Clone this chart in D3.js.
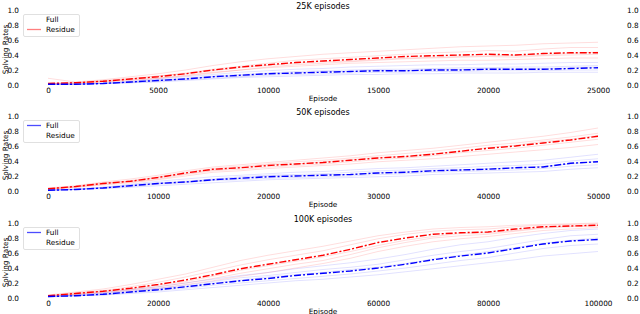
<!DOCTYPE html>
<html>
<head>
<meta charset="utf-8">
<script src="https://cdn.jsdelivr.net/npm/d3@7"></script>
<style>
  body { margin: 0; background: #fff; }
  svg { font-family: "DejaVu Sans", sans-serif; }
</style>
</head>
<body>
<div id="chart"></div>
<script>
// episode grids (21 samples per run)
const episodes25k = d3.range(0, 25001, 1250);
const episodes50k = d3.range(0, 50001, 2500);
const episodes100k = d3.range(0, 100001, 5000);

const xTicks25k = [0, 5000, 10000, 15000, 20000, 25000];
const xTicks50k = [0, 10000, 20000, 30000, 40000, 50000];
const xTicks100k = [0, 20000, 40000, 60000, 80000, 100000];
const yTicks = [0, 0.2, 0.4, 0.6, 0.8, 1.0];
const titles = ["25K episodes", "50K episodes", "100K episodes"];

// 25K: mean curves
const residueMean25k = [0.02,0.03,0.05,0.08,0.11,0.15,0.20,0.24,0.27,0.30,0.32,0.34,0.36,0.38,0.39,0.40,0.41,0.40,0.42,0.43,0.43];
const fullMean25k    = [0.01,0.01,0.02,0.04,0.06,0.08,0.11,0.13,0.15,0.16,0.17,0.18,0.19,0.19,0.20,0.20,0.21,0.21,0.21,0.22,0.23];
// 25K: single runs
const residueRuns25k = [
  [0.09,0.04,0.07,0.11,0.15,0.20,0.26,0.31,0.35,0.38,0.41,0.43,0.45,0.47,0.49,0.51,0.52,0.53,0.55,0.56,0.57],
  [0.02,0.03,0.05,0.07,0.09,0.13,0.17,0.20,0.23,0.25,0.27,0.29,0.30,0.31,0.32,0.33,0.33,0.34,0.35,0.36,0.36],
  [0.02,0.03,0.06,0.09,0.12,0.16,0.21,0.25,0.29,0.33,0.35,0.37,0.39,0.41,0.43,0.44,0.46,0.45,0.48,0.50,0.50],
  [0.01,0.02,0.04,0.06,0.09,0.12,0.16,0.20,0.24,0.27,0.29,0.31,0.33,0.35,0.36,0.37,0.38,0.37,0.39,0.40,0.41],
  [0.02,0.03,0.05,0.08,0.12,0.15,0.19,0.23,0.26,0.29,0.31,0.32,0.34,0.36,0.37,0.38,0.39,0.39,0.40,0.42,0.44]
];
const fullRuns25k = [
  [0.01,0.01,0.03,0.05,0.08,0.11,0.14,0.17,0.19,0.21,0.22,0.24,0.25,0.26,0.27,0.27,0.28,0.28,0.29,0.30,0.30],
  [0.01,0.01,0.02,0.03,0.04,0.06,0.08,0.10,0.11,0.12,0.13,0.14,0.14,0.15,0.15,0.16,0.16,0.16,0.17,0.17,0.17],
  [0.01,0.01,0.02,0.04,0.06,0.09,0.12,0.14,0.16,0.18,0.19,0.20,0.21,0.21,0.22,0.23,0.23,0.24,0.24,0.25,0.26],
  [0.01,0.01,0.02,0.03,0.05,0.07,0.09,0.11,0.13,0.14,0.15,0.16,0.17,0.17,0.18,0.18,0.19,0.19,0.19,0.20,0.20],
  [0.01,0.01,0.02,0.04,0.07,0.08,0.11,0.12,0.15,0.16,0.18,0.18,0.20,0.19,0.21,0.21,0.22,0.21,0.22,0.23,0.24]
];

// 50K
const residueMean50k = [0.03,0.06,0.10,0.13,0.18,0.24,0.29,0.31,0.34,0.36,0.38,0.41,0.44,0.46,0.49,0.53,0.57,0.60,0.64,0.68,0.73];
const fullMean50k    = [0.01,0.02,0.04,0.07,0.10,0.12,0.15,0.17,0.19,0.20,0.21,0.22,0.24,0.25,0.27,0.28,0.29,0.31,0.32,0.37,0.39];
const residueRuns50k = [
  [0.04,0.07,0.12,0.16,0.21,0.27,0.32,0.35,0.38,0.41,0.44,0.47,0.51,0.54,0.57,0.61,0.65,0.69,0.73,0.78,0.84],
  [0.03,0.05,0.08,0.11,0.15,0.20,0.25,0.27,0.30,0.32,0.34,0.36,0.39,0.41,0.43,0.46,0.49,0.52,0.55,0.58,0.62],
  [0.03,0.06,0.10,0.14,0.19,0.25,0.30,0.33,0.36,0.39,0.41,0.44,0.47,0.50,0.53,0.57,0.61,0.64,0.68,0.72,0.77],
  [0.02,0.05,0.09,0.12,0.16,0.22,0.27,0.29,0.32,0.34,0.36,0.39,0.42,0.44,0.47,0.51,0.54,0.57,0.61,0.65,0.69],
  [0.03,0.06,0.11,0.13,0.18,0.23,0.28,0.31,0.35,0.36,0.39,0.42,0.45,0.46,0.50,0.53,0.58,0.61,0.66,0.69,0.74]
];
const fullRuns50k = [
  [0.01,0.03,0.05,0.09,0.13,0.16,0.19,0.21,0.23,0.25,0.26,0.28,0.30,0.31,0.33,0.35,0.37,0.39,0.41,0.45,0.49],
  [0.01,0.02,0.03,0.05,0.07,0.09,0.11,0.13,0.15,0.16,0.17,0.18,0.19,0.20,0.22,0.23,0.24,0.25,0.26,0.29,0.31],
  [0.01,0.02,0.04,0.08,0.11,0.13,0.16,0.19,0.21,0.22,0.23,0.25,0.27,0.28,0.30,0.31,0.33,0.34,0.36,0.40,0.43],
  [0.01,0.02,0.04,0.06,0.09,0.11,0.14,0.15,0.17,0.18,0.19,0.20,0.22,0.23,0.25,0.26,0.27,0.28,0.30,0.33,0.35],
  [0.01,0.02,0.05,0.07,0.10,0.12,0.15,0.17,0.20,0.20,0.22,0.22,0.25,0.25,0.28,0.28,0.30,0.31,0.33,0.36,0.40]
];

// 100K
const residueMean100k = [0.03,0.06,0.09,0.13,0.18,0.24,0.31,0.39,0.45,0.51,0.57,0.65,0.74,0.80,0.85,0.87,0.88,0.92,0.95,0.96,0.97];
const fullMean100k    = [0.02,0.03,0.05,0.08,0.11,0.15,0.19,0.23,0.26,0.30,0.33,0.36,0.40,0.45,0.51,0.56,0.60,0.66,0.72,0.76,0.78];
const residueRuns100k = [
  [0.04,0.08,0.12,0.18,0.25,0.32,0.41,0.50,0.57,0.63,0.69,0.76,0.83,0.88,0.92,0.94,0.95,0.97,0.98,0.99,1.00],
  [0.03,0.05,0.07,0.10,0.13,0.18,0.23,0.29,0.34,0.40,0.46,0.53,0.62,0.69,0.75,0.79,0.82,0.86,0.90,0.92,0.94],
  [0.03,0.07,0.10,0.15,0.21,0.28,0.36,0.44,0.51,0.57,0.63,0.71,0.79,0.85,0.89,0.91,0.92,0.95,0.97,0.98,0.99],
  [0.02,0.05,0.08,0.11,0.15,0.20,0.26,0.33,0.39,0.45,0.50,0.58,0.67,0.74,0.80,0.83,0.85,0.89,0.93,0.95,0.96],
  [0.03,0.06,0.09,0.12,0.17,0.22,0.29,0.37,0.43,0.49,0.55,0.62,0.70,0.77,0.82,0.86,0.87,0.90,0.94,0.96,0.97]
];
const fullRuns100k = [
  [0.02,0.04,0.07,0.11,0.15,0.20,0.25,0.30,0.34,0.39,0.43,0.47,0.52,0.58,0.65,0.71,0.75,0.81,0.86,0.90,0.92],
  [0.02,0.03,0.04,0.06,0.08,0.11,0.14,0.17,0.20,0.23,0.25,0.28,0.31,0.35,0.39,0.43,0.47,0.51,0.56,0.59,0.62],
  [0.02,0.04,0.06,0.09,0.13,0.17,0.22,0.27,0.30,0.34,0.38,0.41,0.45,0.51,0.57,0.62,0.66,0.72,0.78,0.83,0.85],
  [0.01,0.03,0.04,0.07,0.10,0.13,0.17,0.20,0.23,0.26,0.29,0.32,0.36,0.40,0.45,0.50,0.54,0.60,0.66,0.70,0.72],
  [0.02,0.03,0.05,0.08,0.12,0.15,0.20,0.24,0.28,0.31,0.34,0.38,0.41,0.46,0.52,0.57,0.62,0.67,0.73,0.77,0.80]
];

const panels = [
  { title: titles[0], eps: episodes25k, max: 25000, xticks: xTicks25k, top: 10, bottom: 85,
    red: residueMean25k, blue: fullMean25k, redRuns: residueRuns25k, blueRuns: fullRuns25k, legendLine: "red" },
  { title: titles[1], eps: episodes50k, max: 50000, xticks: xTicks50k, top: 116, bottom: 191,
    red: residueMean50k, blue: fullMean50k, redRuns: residueRuns50k, blueRuns: fullRuns50k, legendLine: "blue" },
  { title: titles[2], eps: episodes100k, max: 100000, xticks: xTicks100k, top: 223, bottom: 298,
    red: residueMean100k, blue: fullMean100k, redRuns: residueRuns100k, blueRuns: fullRuns100k, legendLine: "blue" }
];

const W = 640, H = 314;
const left = 48, right = 598;
const fs = 7.3;

const svg = d3.select("#chart").append("svg")
  .attr("width", W).attr("height", H);

panels.forEach(function(p) {
  const x = d3.scaleLinear().domain([0, p.max]).range([left, right]);
  const y = d3.scaleLinear().domain([0, 1]).range([p.bottom, p.top]);
  const g = svg.append("g");

  const line = d3.line()
    .x((d, i) => x(p.eps[i]))
    .y(d => y(d));

  // faint individual runs
  p.redRuns.forEach(run => {
    g.append("path").attr("d", line(run))
      .attr("fill", "none").attr("stroke", "rgba(255,0,0,0.17)").attr("stroke-width", 0.8);
  });
  p.blueRuns.forEach(run => {
    g.append("path").attr("d", line(run))
      .attr("fill", "none").attr("stroke", "rgba(0,0,255,0.15)").attr("stroke-width", 0.8);
  });

  // means
  g.append("path").attr("d", line(p.red))
    .attr("fill", "none").attr("stroke", "#ff0000").attr("stroke-width", 1.4)
    .attr("stroke-dasharray", "7,2,2,2");
  g.append("path").attr("d", line(p.blue))
    .attr("fill", "none").attr("stroke", "#0000ff").attr("stroke-width", 1.4)
    .attr("stroke-dasharray", "7,2,2,2");

  // axes
  const ax = [
    g.append("g").attr("transform", `translate(${left},0)`)
      .call(d3.axisLeft(y).tickValues(yTicks).tickFormat(d3.format(".1f")).tickSize(0).tickPadding(29)),
    g.append("g").attr("transform", `translate(${right},0)`)
      .call(d3.axisRight(y).tickValues(yTicks).tickFormat(d3.format(".1f")).tickSize(0).tickPadding(29)),
    g.append("g").attr("transform", `translate(0,${p.bottom})`)
      .call(d3.axisBottom(x).tickValues(p.xticks).tickFormat(d3.format("d")).tickSize(0).tickPadding(2.5))
  ];
  ax.forEach(a => {
    a.select(".domain").remove();
    a.selectAll("text").attr("font-size", fs).attr("fill", "#000")
      .attr("font-family", "DejaVu Sans, sans-serif");
  });

  // title and axis labels
  g.append("text").attr("x", (left + right) / 2).attr("y", p.top - 1.5)
    .attr("text-anchor", "middle").attr("font-size", 8).text(p.title);
  g.append("text").attr("x", (left + right) / 2).attr("y", p.bottom + 15.5)
    .attr("text-anchor", "middle").attr("font-size", fs).text("Episode");
  g.append("text")
    .attr("transform", `translate(7.5,${(p.top + p.bottom) / 2 + 2}) rotate(-90)`)
    .attr("text-anchor", "middle").attr("font-size", fs).text("Solving Rates");

  // legend
  const lg = g.append("g").attr("transform", `translate(23,${p.top + 4})`);
  lg.append("rect").attr("x", 0.5).attr("y", 0.5).attr("width", 56).attr("height", 22)
    .attr("rx", 1.5).attr("fill", "rgba(255,255,255,0.8)").attr("stroke", "#d8d8d8").attr("stroke-width", 0.8);
  const rowY = [5.5, 15.5];
  if (p.legendLine === "red") {
    lg.append("line").attr("x1", 4).attr("x2", 18).attr("y1", rowY[1]).attr("y2", rowY[1])
      .attr("stroke", "#ff0000").attr("stroke-opacity", 0.5).attr("stroke-width", 1.3);
  } else {
    lg.append("line").attr("x1", 4).attr("x2", 18).attr("y1", rowY[0]).attr("y2", rowY[0])
      .attr("stroke", "#0000ff").attr("stroke-opacity", 0.7).attr("stroke-width", 1.3);
  }
  ["Full", "Residue"].forEach((t, i) => {
    lg.append("text").attr("x", 23).attr("y", rowY[i]).attr("dy", "0.35em")
      .attr("font-size", fs).text(t);
  });
});
</script>
</body>
</html>
